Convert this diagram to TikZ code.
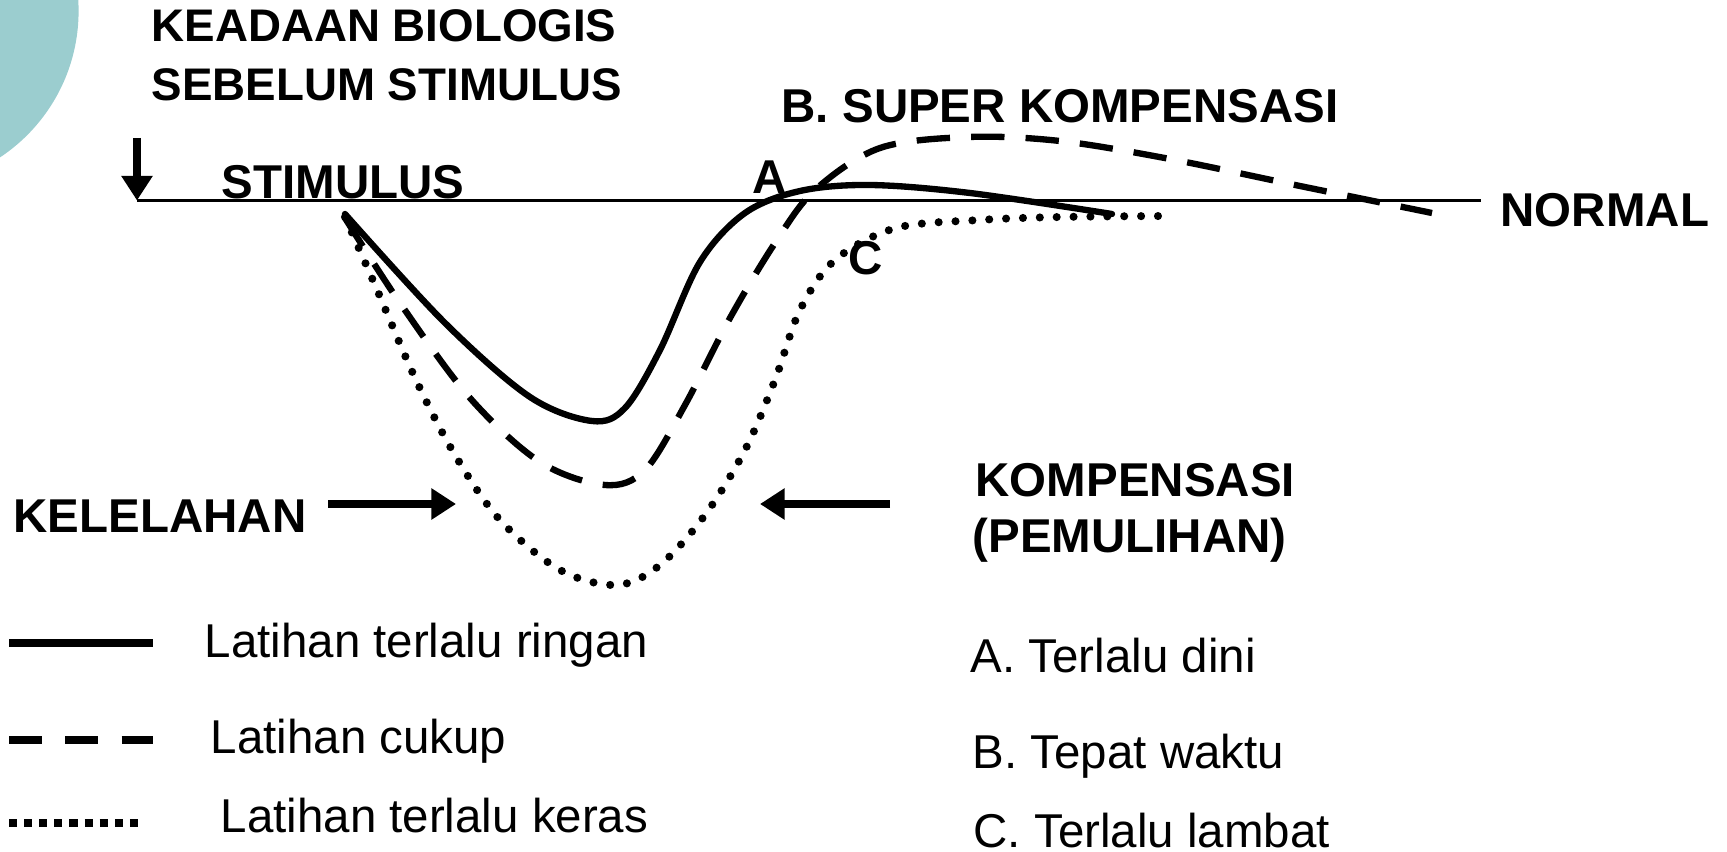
\documentclass[tikz,border=0pt]{standalone}
\usepackage{fontspec}
\setmainfont{Liberation Sans}
\usetikzlibrary{arrows.meta}
\definecolor{slideteal}{RGB}{155,205,207}

\begin{document}
\begin{tikzpicture}[x=0.01cm, y=-0.01cm,
    lbl/.style={anchor=base west, inner sep=0pt, font=\fontsize{13.5}{16}\selectfont\bfseries},
    txt/.style={anchor=base west, inner sep=0pt, font=\fontsize{13.5}{16}\selectfont},
    curve/.style={line width=1.8pt, line cap=round, line join=round},
    dashcurve/.style={curve, line cap=butt, dash pattern=on 9.5pt off 6pt},
    dotcurve/.style={line width=2.3pt, line cap=round, dash pattern=on 0pt off 4.8pt},
    ptr/.style={line width=2pt, -{Triangle[length=7pt, width=8.5pt]}}]
  \clip (0,0) rectangle (1727,852);
  \useasboundingbox (0,0) rectangle (1727,852);
  \fill[slideteal] (-97,11) circle[radius=1.755cm];

  % top labels and baseline
  \node[lbl, font=\fontsize{13}{16}\selectfont\bfseries] (keadaan) at (151,42) {KEADAAN BIOLOGIS};
  \node[lbl, font=\fontsize{13}{16}\selectfont\bfseries] (sebelum) at (151,101) {SEBELUM STIMULUS};
  \coordinate (base0) at (137,200.5);
  \coordinate (base1) at (1481,200.5);
  \coordinate (stim) at (137,138);
  \draw[line width=0.6pt] (base0) -- (base1);
  \draw[ptr] (stim) -- (base0);
  \node[lbl] (stimulus) at (221,199) {STIMULUS};
  \node[lbl] (markA) at (752,194) {A};
  \node[lbl] (super) at (781,123) {B. SUPER KOMPENSASI};
  \node[lbl] (normal) at (1500,227) {NORMAL};
  \node[lbl] (markC) at (848,275) {C};

  % the three curves
  \draw[curve] plot[smooth, tension=0.55] coordinates {(345,214) (445,323) (530,397) (592,421) (625,408) (660,350) (700,262) (745,213) (800,191) (870,185) (970,193) (1112,214)};
  \draw[dashcurve] plot[smooth, tension=0.55] coordinates {(345,218) (400,303) (470,398) (540,462) (605,485) (645,470) (685,405) (730,318) (775,243) (815,190) (880,148) (969,137) (1060,141) (1170,159) (1300,186) (1432,213)};
  \draw[dotcurve] plot[smooth, tension=0.55] coordinates {(345,217) (375,285) (416,380) (455,455) (500,520) (560,570) (617,585) (660,565) (705,515) (745,450) (775,380) (800,310) (835,260) (896,228) (980,220) (1060,217) (1167,216)};

  % side arrows
  \node[lbl] (kelelahan) at (13,532) {KELELAHAN};
  \node[lbl] (kompensasi) at (975,497) {KOMPENSASI};
  \node[lbl] (pemulihan) at (972,553) {(PEMULIHAN)};
  \coordinate (kel0) at (328,504);
  \coordinate (kel1) at (456,504);
  \coordinate (kom0) at (890,504);
  \coordinate (kom1) at (760,504);
  \draw[ptr] (kel0) -- (kel1);
  \draw[ptr] (kom0) -- (kom1);

  % legend
  \coordinate (leg1a) at (9,643);  \coordinate (leg1b) at (153,643);
  \coordinate (leg2a) at (9,740);  \coordinate (leg2b) at (153,740);
  \coordinate (leg3a) at (9,823);  \coordinate (leg3b) at (145,823);
  \draw[line width=2.4pt] (leg1a) -- (leg1b);
  \draw[line width=2.4pt, dash pattern=on 9.4pt off 6.6pt] (leg2a) -- (leg2b);
  \draw[line width=2.4pt, dash pattern=on 2.3pt off 2pt] (leg3a) -- (leg3b);
  \node[txt] (ringan) at (204,657) {Latihan terlalu ringan};
  \node[txt] (cukup) at (210,753) {Latihan cukup};
  \node[txt] (keras) at (220,832) {Latihan terlalu keras};
  \node[txt] (dini) at (970,672) {A. Terlalu dini};
  \node[txt] (tepat) at (972,768) {B. Tepat waktu};
  \node[txt] (lambat) at (973,847) {C. Terlalu lambat};
\end{tikzpicture}
\end{document}
